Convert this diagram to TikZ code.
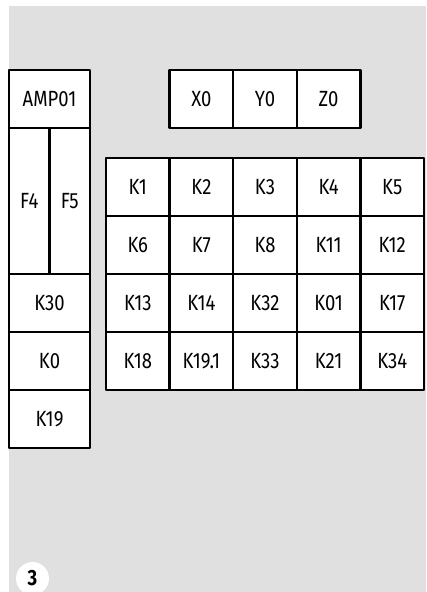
\documentclass[tikz,border=0pt]{standalone}
\usepackage{fontspec}
\setmainfont{Fira Sans}[FakeStretch=0.84]
\usetikzlibrary{positioning}

\tikzset{
	cell/.style={draw=black, line width=2.4pt, fill=white, inner sep=0pt, outer sep=0pt,
		minimum width=63.6pt, minimum height=58pt, font=\fontsize{22}{22}\selectfont},
	badge/.style={circle, fill=white, inner sep=0pt, minimum size=33pt,
		font=\bfseries\fontsize{22}{22}\selectfont},
}

\begin{document}
\begin{tikzpicture}[x=1pt, y=-1pt, line cap=round, line join=round]

\useasboundingbox (0,0) rectangle (426,592);
\fill[black!12] (9,6) rectangle (426,592);

%========================
% Left column
%========================
\node[cell, minimum width=81pt] (amp) at (49.5,99) {AMP01};
\node[cell, minimum width=40.5pt, minimum height=146pt] (f4) at (29.25,201) {F4};
\node[cell, minimum width=40.5pt, minimum height=146pt] (f5) at (69.75,201) {F5};
\node[cell, minimum width=81pt] (k30) at (49.5,303) {K30};
\node[cell, minimum width=81pt] (k0) at (49.5,361) {K0};
\node[cell, minimum width=81pt] (k19) at (49.5,419) {K19};

%========================
% Top row
%========================
\foreach \lbl [count=\c] in {X0,Y0,Z0}
	\node[cell] (top-\c) at (137.8+63.6*\c,99) {\lbl};

%========================
% Relay grid
%========================
\foreach \row [count=\r] in {{K1,K2,K3,K4,K5},{K6,K7,K8,K11,K12},{K13,K14,K32,K01,K17},{K18,K19.1,K33,K21,K34}}
	\foreach \lbl [count=\c] in \row
		\node[cell] (k-\r-\c) at (74.2+63.6*\c,129+58*\r) {\lbl};

% page number
\node[badge] (page) at (32.5,578.5) {3};

\end{tikzpicture}
\end{document}
